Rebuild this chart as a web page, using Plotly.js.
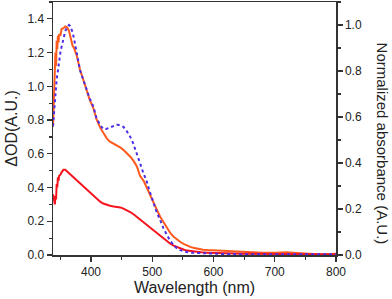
<!DOCTYPE html>
<html>
<head>
<meta charset="utf-8">
<script src="https://cdn.plot.ly/plotly-3.0.1.min.js"></script>
<style>html,body{margin:0;padding:0;background:#fff;}#chart{width:392px;height:299px;}</style>
</head>
<body>
<div id="chart"></div>
<script>
// Orange curve (ΔOD, left axis)
const orangeWl = [338,339,340,341,342,343,344,345,346,347,348,350,352,355,358,361,364,366,368,370,372,377,382,387,393,398,404,409,415,420,426,431,437,443,449,454,460,465,470,475,480,486,491,497,502,508,513,519,524,530,535,541,546,552,557,562,567,575,583,590,600,611,620,633,650,665,680,700,710,720,730,742,750,758,770,785,795,800];
const orangeOD = [0.76,0.85,0.98,1.07,1.20,1.12,1.27,1.22,1.30,1.26,1.31,1.30,1.34,1.345,1.355,1.35,1.33,1.30,1.265,1.24,1.23,1.18,1.10,1.045,0.98,0.92,0.87,0.805,0.755,0.722,0.69,0.672,0.66,0.648,0.635,0.62,0.60,0.58,0.555,0.525,0.47,0.44,0.40,0.35,0.305,0.265,0.227,0.19,0.158,0.128,0.108,0.09,0.077,0.065,0.055,0.048,0.043,0.036,0.031,0.029,0.027,0.025,0.023,0.020,0.017,0.014,0.013,0.013,0.015,0.016,0.014,0.010,0.007,0.004,0.004,0.005,0.006,0.007];

// Red curve (ΔOD, left axis)
const redWl = [338,339,340,341,342,343,344,345,346,347,348,350,352,355,358,361,365,371,377,382,387,393,398,404,409,415,420,426,431,437,443,448,453,459,464,470,475,480,486,491,497,502,508,513,519,524,529,535,541,546,552,557,562,570,580,590,600,620,650,700,750,800];
const redOD = [0.36,0.33,0.31,0.30,0.35,0.33,0.42,0.40,0.46,0.44,0.47,0.475,0.49,0.505,0.505,0.495,0.48,0.462,0.44,0.425,0.41,0.39,0.37,0.35,0.332,0.316,0.305,0.296,0.292,0.288,0.285,0.282,0.275,0.265,0.255,0.24,0.225,0.21,0.193,0.178,0.162,0.145,0.13,0.115,0.097,0.082,0.068,0.055,0.045,0.038,0.031,0.026,0.023,0.019,0.016,0.014,0.012,0.010,0.008,0.006,0.004,0.003];

// Blue dotted curve (normalized absorbance, right axis)
const blueWl = [338,339,340,341,342,344,346,348,350,352,355,358,361,364,366,369,372,375,379,382,387,393,398,404,409,415,420,425,430,436,442,447,453,458,464,469,475,480,485,491,496,502,507,513,518,524,529,535,540,545,552,562,575,590,620,700,800];
const blueAbs = [0.56,0.60,0.65,0.685,0.72,0.765,0.80,0.845,0.88,0.905,0.94,0.973,0.992,1.0,0.995,0.975,0.945,0.905,0.845,0.805,0.765,0.717,0.68,0.645,0.595,0.565,0.548,0.548,0.553,0.561,0.566,0.565,0.557,0.54,0.514,0.485,0.442,0.40,0.36,0.32,0.275,0.225,0.188,0.152,0.118,0.087,0.063,0.043,0.030,0.022,0.015,0.010,0.008,0.006,0.004,0.003,0.003];

const xTitle = 'Wavelength (nm)';
const yTitle = 'ΔOD(A.U.)';
const y2Title = 'Normalized absorbance (A.U.)';

const font = 'Liberation Sans, Arial, sans-serif';
const axisCol = '#333';

const traces = [
  {x: orangeWl, y: orangeOD, type: 'scatter', mode: 'lines', line: {color: '#ff5a1e', width: 2}, yaxis: 'y', hoverinfo: 'skip'},
  {x: redWl, y: redOD, type: 'scatter', mode: 'lines', line: {color: '#f5141e', width: 2}, yaxis: 'y', hoverinfo: 'skip'},
  {x: blueWl, y: blueAbs, type: 'scatter', mode: 'lines', line: {color: '#4b2ee6', width: 2, dash: 'dot'}, yaxis: 'y2', hoverinfo: 'skip'}
];

const layout = {
  width: 392, height: 299,
  margin: {l: 53, r: 56, t: 2, b: 44},
  paper_bgcolor: '#fff', plot_bgcolor: '#fff',
  showlegend: false,
  font: {family: font, size: 12, color: '#222'},
  xaxis: {
    range: [338, 800], dtick: 100, tick0: 0,
    showgrid: false, zeroline: false,
    showline: true, linecolor: axisCol, linewidth: 1.5, mirror: true,
    ticks: 'outside', ticklen: 5, tickwidth: 1.2, tickcolor: axisCol,
    minor: {dtick: 50, ticks: 'outside', ticklen: 3, tickcolor: axisCol, tickwidth: 1.2, showgrid: false},
    tickfont: {size: 12},
    title: {text: xTitle, font: {size: 16}, standoff: 4}
  },
  yaxis: {
    range: [0, 1.5], dtick: 0.2, tick0: 0, tickformat: '.1f',
    showgrid: false, zeroline: false,
    showline: true, linecolor: axisCol, linewidth: 1.5,
    ticks: 'outside', ticklen: 5, tickwidth: 1.2, tickcolor: axisCol,
    minor: {dtick: 0.1, ticks: 'outside', ticklen: 3, tickcolor: axisCol, tickwidth: 1.2, showgrid: false},
    tickfont: {size: 12},
    title: {text: yTitle, font: {size: 16}, standoff: 6}
  },
  yaxis2: {
    range: [0, 1.1], dtick: 0.2, tick0: 0, tickformat: '.1f',
    overlaying: 'y', side: 'right',
    showgrid: false, zeroline: false,
    showline: true, linecolor: axisCol, linewidth: 1.5,
    ticks: 'outside', ticklen: 5, tickwidth: 1.2, tickcolor: axisCol,
    minor: {dtick: 0.1, ticks: 'outside', ticklen: 3, tickcolor: axisCol, tickwidth: 1.2, showgrid: false},
    tickfont: {size: 12}
  },
  annotations: [{
    text: y2Title, xref: 'paper', yref: 'paper', x: 1.163, y: 0.44,
    xanchor: 'center', yanchor: 'middle', textangle: 90, showarrow: false,
    font: {family: font, size: 15, color: '#222'}
  }]
};

Plotly.newPlot('chart', traces, layout, {staticPlot: true, displayModeBar: false});
</script>
</body>
</html>
